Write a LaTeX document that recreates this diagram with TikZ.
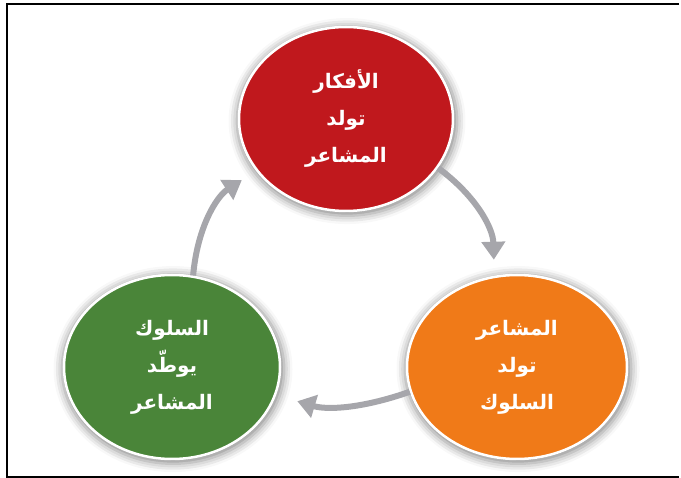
\documentclass[tikz,border=0pt]{standalone}
\usepackage{fontspec}
\usetikzlibrary{arrows.meta,shapes.geometric,shadows.blur}
\TeXXeTstate=1
\newfontfamily\arabicfont[Script=Arabic]{DejaVu Sans}

\definecolor{thoughtred}{HTML}{C0181D}
\definecolor{feelorange}{HTML}{F07A18}
\definecolor{actgreen}{HTML}{4A8539}
\definecolor{cyclegray}{HTML}{A6A6AB}

\tikzset{
  bubble/.style={ellipse, draw=white, line width=2.5pt,
    minimum width=214pt, minimum height=184pt, inner sep=0pt,
    align=center, text=white,
    font=\arabicfont\bfseries\fontsize{20}{37}\selectfont,
    blur shadow={shadow xshift=1pt, shadow yshift=-2pt,
      shadow blur radius=8pt, shadow opacity=45, shadow scale=1.03}},
  cycle/.style={draw=cyclegray, line width=6pt,
    -{Triangle[width=23pt,length=18pt]}}
}

\begin{document}
\begin{tikzpicture}[x=1pt, y=-1pt]
        \useasboundingbox (0, 0) rectangle (681, 478);
        % frame, open on the right
        \draw[line width=2pt] (679, 4) -| (7, 477) -- (679, 477);
        % the three stages
        \node[bubble, fill=thoughtred] (thoughts) at (346, 119)
            {\beginR الأفكار\endR\\\beginR تولد\endR\\\beginR المشاعر\endR};
        \node[bubble, fill=feelorange, minimum width=220pt] (feelings) at (517, 367)
            {\beginR المشاعر\endR\\\beginR تولد\endR\\\beginR السلوك\endR};
        \node[bubble, fill=actgreen, minimum width=216pt] (behaviour) at (172, 367)
            {\beginR السلوك\endR\\\beginR يوطّد\endR\\\beginR المشاعر\endR};
        % arrows round the cycle
        \draw[cycle, shorten >=16pt] (thoughts.-28) to[bend left=26] (feelings.104);
        \draw[cycle, shorten >=22pt] (feelings.193) to[bend left=18] (behaviour.-15);
        \draw[cycle, shorten >=17pt] (behaviour.77) to[bend left=26] (thoughts.210);
    \end{tikzpicture}
\end{document}
